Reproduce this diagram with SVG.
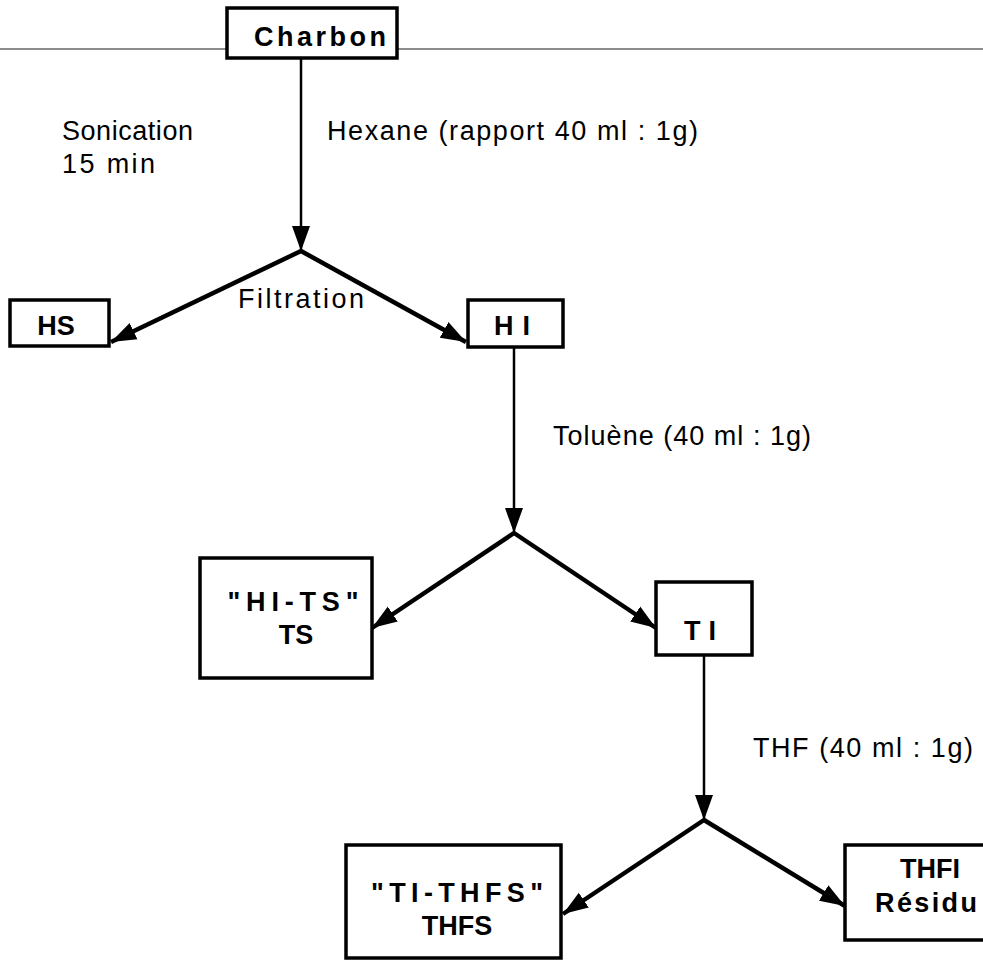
<svg xmlns="http://www.w3.org/2000/svg" width="983" height="962" viewBox="0 0 983 962">
<style>
.box{fill:#fff;stroke:#000;stroke-width:3.5}
.lbl{font-family:"Liberation Sans",Arial,sans-serif;font-size:27px;fill:#000}
.nb{font-family:"Liberation Sans",Arial,sans-serif;font-size:27px;font-weight:bold;fill:#000;text-anchor:middle}
.thin{stroke:#000;stroke-width:2.5;fill:none}
.thick{stroke:#000;stroke-width:4.5;fill:none}
</style>
<defs>
<marker id="ah" markerUnits="userSpaceOnUse" markerWidth="28" markerHeight="22" refX="25" refY="11" orient="auto">
<path d="M0,2 L25,11 L0,20 Z" fill="#000"/>
</marker>
</defs>
<rect width="983" height="962" fill="#fff"/>
<line x1="0" y1="49" x2="983" y2="49" stroke="#666" stroke-width="1.5"/>
<g id="connectors">
<line class="thin" x1="301" y1="58" x2="301" y2="251" marker-end="url(#ah)"/>
<line class="thick" x1="301" y1="251" x2="111" y2="342" marker-end="url(#ah)"/>
<line class="thick" x1="301" y1="251" x2="466" y2="342" marker-end="url(#ah)"/>
<line class="thin" x1="514" y1="347" x2="514" y2="533" marker-end="url(#ah)"/>
<line class="thick" x1="514" y1="533" x2="372" y2="628" marker-end="url(#ah)"/>
<line class="thick" x1="514" y1="533" x2="656" y2="628" marker-end="url(#ah)"/>
<line class="thin" x1="704" y1="655" x2="704" y2="820" marker-end="url(#ah)"/>
<line class="thick" x1="704" y1="820" x2="563" y2="914" marker-end="url(#ah)"/>
<line class="thick" x1="704" y1="820" x2="845" y2="906" marker-end="url(#ah)"/>
</g>
<g id="labels">
<text class="lbl" x="62" y="140" textLength="131">Sonication</text>
<text class="lbl" x="62" y="173" textLength="93">15  min</text>
<text class="lbl" x="327" y="140" textLength="371">Hexane (rapport 40 ml : 1g)</text>
<text class="lbl" x="238" y="308" textLength="126">Filtration</text>
<text class="lbl" x="553" y="445" textLength="258">Toluène (40 ml : 1g)</text>
<text class="lbl" x="753" y="757" textLength="220">THF (40 ml : 1g)</text>
</g>
<g id="charbon">
<rect class="box" x="227" y="8" width="170" height="50"/>
<text class="nb" x="320" y="46" textLength="132">Charbon</text>
</g>
<g id="hs">
<rect class="box" x="10" y="300" width="99" height="46"/>
<text class="nb" x="56" y="335">HS</text>
</g>
<g id="hi">
<rect class="box" x="468" y="300" width="95" height="47"/>
<text class="nb" x="512" y="335" textLength="36">H I</text>
</g>
<g id="hits">
<rect class="box" x="200" y="558" width="172" height="120"/>
<text class="nb" x="293" y="611" textLength="131">"HI-TS"</text>
<text class="nb" x="296" y="644">TS</text>
</g>
<g id="ti">
<rect class="box" x="656" y="582" width="96" height="73"/>
<text class="nb" x="700" y="640" textLength="32">T I</text>
</g>
<g id="tithfs">
<rect class="box" x="346" y="845" width="215" height="113"/>
<text class="nb" x="457" y="902" textLength="172">"TI-THFS"</text>
<text class="nb" x="457" y="935">THFS</text>
</g>
<g id="thfi">
<rect class="box" x="845" y="845" width="145" height="95"/>
<text class="nb" x="930" y="878">THFI</text>
<text class="nb" x="926" y="912" textLength="102">Résidu</text>
</g>
</svg>
